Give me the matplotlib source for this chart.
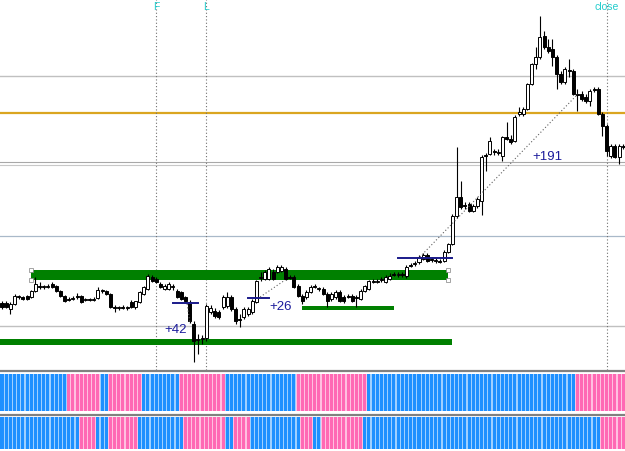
import matplotlib
matplotlib.use("Agg")
import matplotlib.pyplot as plt
import numpy as np
from matplotlib.lines import Line2D
from matplotlib.patches import Rectangle

# ---- candle data (bar index 0..149) ----
opens = [96, 96, 90, 95, 102, 102, 103, 102, 108, 113,
         112, 112, 115, 113, 108, 103, 100, 100, 103, 103,
         99, 100, 99, 101, 108, 108, 105, 92, 91, 92,
         91, 97, 92, 97, 105, 110, 122, 120, 115, 110,
         110, 112, 108, 107, 102, 97, 75, 59, 60, 61,
         87, 88, 87, 92, 93, 102, 90, 80, 82, 85,
         87, 97, 121, 120, 120, 127, 127, 128, 130, 122,
         122, 113, 103, 102, 107, 113, 110, 110, 105, 100,
         102, 107, 102, 103, 103, 102, 100, 108, 110, 118,
         117, 119, 117, 120, 125, 124, 125, 123, 134, 135,
         137, 140, 144, 140, 138, 138, 138, 147, 155, 183,
         202, 194, 195, 188, 193, 198, 244, 245, 248, 246,
         243, 262, 260, 258, 285, 285, 290, 315, 335, 342,
         363, 352, 350, 342, 325, 317, 329, 328, 305, 305,
         302, 298, 310, 310, 285, 273, 243, 253, 242, 253]
highs = [98, 98, 97, 105, 104, 103, 104, 109, 122, 117,
         114, 115, 117, 114, 109, 104, 102, 103, 106, 104,
         101, 101, 102, 112, 110, 109, 106, 94, 93, 94,
         93, 99, 98, 108, 113, 125, 124, 122, 117, 115,
         117, 115, 110, 108, 103, 99, 78, 65, 64, 95,
         94, 91, 89, 104, 107, 104, 92, 85, 92, 92,
         100, 119, 127, 129, 132, 130, 134, 134, 132, 124,
         124, 115, 105, 109, 114, 115, 112, 112, 107, 107,
         109, 109, 104, 105, 105, 104, 110, 114, 119, 120,
         120, 122, 124, 126, 127, 127, 127, 134, 136, 138,
         144, 146, 146, 142, 141, 140, 149, 156, 185, 252,
         218, 197, 197, 195, 202, 244, 246, 262, 250, 250,
         263, 277, 264, 284, 292, 292, 316, 336, 352, 383,
         368, 360, 360, 344, 328, 332, 340, 330, 310, 308,
         305, 310, 312, 312, 287, 275, 255, 255, 255, 255]
lows = [90, 91, 85, 94, 100, 99, 99, 101, 107, 110,
        110, 111, 111, 107, 102, 97, 98, 99, 100, 96,
        98, 98, 98, 100, 106, 104, 91, 87, 89, 90,
        89, 91, 90, 96, 104, 109, 117, 116, 111, 109,
        109, 109, 101, 99, 97, 76, 37, 45, 55, 58,
        85, 81, 80, 90, 91, 88, 75, 72, 80, 83,
        85, 96, 118, 119, 119, 119, 126, 127, 119, 120,
        111, 102, 95, 100, 106, 111, 108, 104, 92, 98,
        100, 97, 96, 101, 97, 92, 99, 107, 109, 116,
        116, 117, 116, 119, 123, 122, 122, 121, 132, 133,
        135, 139, 137, 137, 136, 136, 137, 146, 154, 181,
        190, 190, 187, 187, 191, 184, 228, 244, 244, 244,
        238, 259, 255, 257, 283, 283, 289, 314, 330, 340,
        350, 346, 333, 310, 315, 315, 322, 304, 288, 298,
        296, 293, 307, 284, 263, 243, 241, 241, 235, 250]
closes = [92, 92, 95, 103, 103, 100, 100, 108, 115, 112,
          113, 113, 112, 108, 103, 98, 99, 101, 102, 97,
          100, 99, 100, 109, 109, 105, 92, 91, 92, 91,
          92, 92, 98, 107, 112, 123, 118, 117, 112, 113,
          115, 113, 102, 100, 98, 78, 58, 60, 61, 93,
          91, 83, 82, 102, 102, 90, 78, 79, 90, 90,
          98, 118, 122, 127, 130, 120, 132, 132, 120, 121,
          112, 103, 98, 107, 112, 112, 111, 105, 98, 105,
          107, 98, 98, 102, 98, 101, 108, 113, 118, 117,
          118, 120, 122, 123, 124, 125, 124, 132, 133, 136,
          142, 144, 138, 139, 139, 137, 147, 155, 183, 202,
          192, 193, 188, 193, 200, 242, 243, 258, 247, 247,
          262, 260, 257, 282, 287, 290, 315, 335, 342, 362,
          352, 348, 342, 325, 317, 330, 328, 305, 304, 300,
          298, 308, 309, 285, 273, 248, 253, 242, 253, 252]

# indicator histograms, run lengths of blue (B) / pink (P)
upper_runs = [("B", 16), ("P", 8), ("B", 2), ("P", 8), ("B", 9), ("P", 11),
              ("B", 17), ("P", 17), ("B", 50), ("P", 12)]
lower_runs = [("B", 19), ("P", 4), ("B", 3), ("P", 7), ("B", 11), ("P", 10),
              ("B", 2), ("P", 4), ("B", 12), ("P", 3), ("B", 2), ("P", 10),
              ("B", 57), ("P", 6)]

# horizontal levels
silver_levels = [323, 73]
gold_level = 286
double_levels = [236.7, 234.3]
blue_grey_level = 162.7

# vertical markers (bar index, label)
vmarks = [(37, "F"), (49, "L"), (145, "close")]

# zones: (x0, x1, y0, y1)
zones = [(7, 107, 119, 129), (-0.5, 108, 54, 60), (72, 94, 89, 93)]
# entry segments: (x0, x1, price)
segments = [(41, 47, 96), (59, 64, 100.7), (95, 108, 141)]
# dotted links: (x0, y0, x1, y1)
links = [(44.4, 95, 45.1, 75), (61.9, 102, 67.9, 119), (100.2, 142, 138.1, 305)]
# profit labels
profits = [(41.7, 70, "+42"), (66.9, 93, "+26"), (130.9, 243, "+191")]

W, H = 625, 452
SPACING = 4.17
XLIM = (-2 / SPACING, (W - 2) / SPACING)

fig = plt.figure(figsize=(W / 100, H / 100), dpi=100)
fig.patch.set_facecolor("white")


def px_axes(top, bottom):
    return fig.add_axes([0, (H - bottom) / H, 1, (bottom - top) / H])


ax = px_axes(0, 371)
ax.set_xlim(*XLIM)
ax.set_ylim(400 - 371, 400)
ax.axis("off")

for lv in silver_levels:
    ax.axhline(lv, color="#c0c0c0", lw=1.0, zorder=0)
ax.axhline(gold_level, color="#DAA520", lw=1.6, zorder=0)
ax.axhline(double_levels[0], color="#a8a8a8", lw=0.8, zorder=0)
ax.axhline(double_levels[1], color="#c8c8c8", lw=0.8, zorder=0)
ax.axhline(blue_grey_level, color="#a9b9c9", lw=0.9, zorder=0)

for bx, lab in vmarks:
    ax.axvline(bx, color="#707070", lw=0.8, ls=(0, (1, 2)), zorder=1)
    ax.text(bx, 398.5, lab, ha="center", va="top", color="#22cccc",
            fontsize=7.5, family="Liberation Sans")

for x0, x1, y0, y1 in zones:
    ax.add_patch(Rectangle((x0, y0), x1 - x0, y1 - y0, color="#008000", lw=0, zorder=1))
z = zones[0]
ax.plot([z[0], z[0], z[1], z[1]], [z[3], z[2], z[3], z[2]], ls="none", marker="s",
        ms=2.5, mfc="white", mec="#808080", mew=0.5, zorder=2)

x = np.arange(len(opens))
o, h, l, c = (np.array(v, dtype=float) for v in (opens, highs, lows, closes))
ax.vlines(x, l, h, color="black", lw=0.8, zorder=3)
up = c >= o
body_bottom = np.minimum(o, c)
body_h = np.maximum(np.abs(c - o), 0.7)
ax.bar(x, body_h, bottom=body_bottom, width=0.72,
       color=np.where(up, "white", "black"), edgecolor="black", linewidth=0.7, zorder=4)

for x0, x1, y0 in segments:
    ax.plot([x0, x1], [y0, y0], color="#1a1a8a", lw=1.4, zorder=5)
for x0, y0, x1, y1 in links:
    ax.plot([x0, x1], [y0, y1], color="#606060", lw=0.8, ls=(0, (1, 2)), zorder=5)
for px, py, lab in profits:
    ax.text(px, py, lab, ha="center", va="center", color="#1c1c9c",
            fontsize=9.5, family="Liberation Sans", zorder=6)


def stripes(axis, runs):
    main, light = [], []
    for code, n in runs:
        main += ["#1E90FF" if code == "B" else "#FF69B4"] * n
        light += ["#9fd0ff" if code == "B" else "#ffc0e0"] * n
    axis.set_xlim(*XLIM)
    axis.set_ylim(0, 1)
    axis.axis("off")
    pos = np.arange(len(main))
    axis.bar(pos, 1, width=1.0, color=light, lw=0)
    axis.bar(pos, 1, width=0.72, color=main, lw=0)


stripes(px_axes(375, 412), upper_runs)
stripes(px_axes(418, 450), lower_runs)

for yy in (372, 415.5):
    fig.add_artist(Line2D([0, 1], [(H - yy) / H] * 2, color="#808080", lw=1.6,
                          transform=fig.transFigure))

fig.savefig("out.png", dpi=100, facecolor="white")
